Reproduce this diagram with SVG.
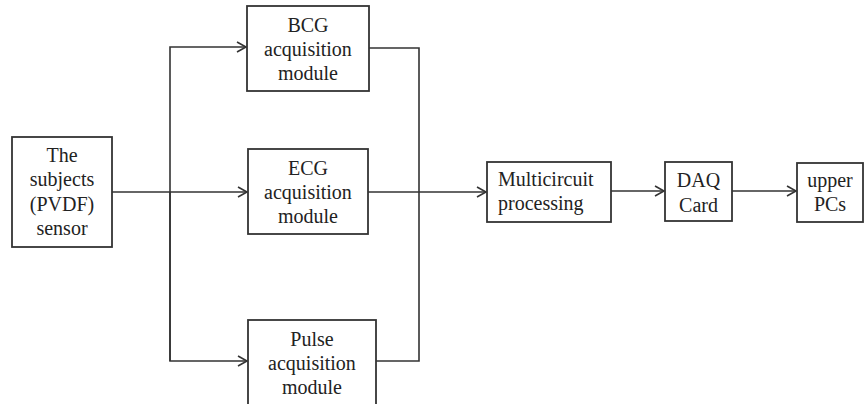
<svg xmlns="http://www.w3.org/2000/svg" width="867" height="404" viewBox="0 0 867 404">
<defs>
<marker id="arr" markerWidth="12" markerHeight="12" refX="10" refY="6" orient="auto" markerUnits="userSpaceOnUse">
<path d="M1,1 L10,6 L1,11" fill="none" stroke="#333" stroke-width="1.6"/>
</marker>
<style>
.box{fill:#fff;stroke:#333;stroke-width:1.8}
.ln{fill:none;stroke:#333;stroke-width:1.6}
.t{font-family:"Liberation Serif","Times New Roman",serif;font-size:20px;fill:#222;text-anchor:middle}
.tl{font-family:"Liberation Serif","Times New Roman",serif;font-size:20px;fill:#222}
</style>
</defs>
<rect width="867" height="404" fill="#fff"/>
<g id="connectors">
<line class="ln" x1="112" y1="192" x2="247" y2="192" marker-end="url(#arr)"/>
<polyline class="ln" points="170,361 170,47 246,47" marker-end="url(#arr)"/>
<polyline class="ln" points="170,192 170,361 247,361" marker-end="url(#arr)"/>
<polyline class="ln" points="369,48 419,48 419,361 376,361"/>
<line class="ln" x1="368" y1="192" x2="486" y2="192" marker-end="url(#arr)"/>
<line class="ln" x1="611" y1="191" x2="664" y2="191" marker-end="url(#arr)"/>
<line class="ln" x1="732" y1="191" x2="796" y2="191" marker-end="url(#arr)"/>
</g>
<g id="subjects">
<rect class="box" x="12" y="137" width="100" height="110"/>
<text class="t" x="62" y="162">The</text>
<text class="t" x="62" y="186">subjects</text>
<text class="t" x="62" y="211">(PVDF)</text>
<text class="t" x="62" y="235">sensor</text>
</g>
<g id="bcg">
<rect class="box" x="247" y="6" width="122" height="85"/>
<text class="t" x="308" y="32">BCG</text>
<text class="t" x="308" y="56">acquisition</text>
<text class="t" x="308" y="80">module</text>
</g>
<g id="ecg">
<rect class="box" x="248" y="149" width="120" height="85"/>
<text class="t" x="308" y="175">ECG</text>
<text class="t" x="308" y="199">acquisition</text>
<text class="t" x="308" y="223">module</text>
</g>
<g id="pulse">
<rect class="box" x="248" y="320" width="128" height="95"/>
<text class="t" x="312" y="346">Pulse</text>
<text class="t" x="312" y="370">acquisition</text>
<text class="t" x="312" y="394">module</text>
</g>
<g id="multicircuit">
<rect class="box" x="487" y="162" width="124" height="60"/>
<text class="tl" x="498" y="186">Multicircuit</text>
<text class="tl" x="498" y="210">processing</text>
</g>
<g id="daq">
<rect class="box" x="665" y="162" width="67" height="59"/>
<text class="t" x="698.5" y="187">DAQ</text>
<text class="t" x="698.5" y="212">Card</text>
</g>
<g id="upper">
<rect class="box" x="797" y="163" width="66" height="59"/>
<text class="t" x="830" y="187">upper</text>
<text class="t" x="830" y="211">PCs</text>
</g>
</svg>
